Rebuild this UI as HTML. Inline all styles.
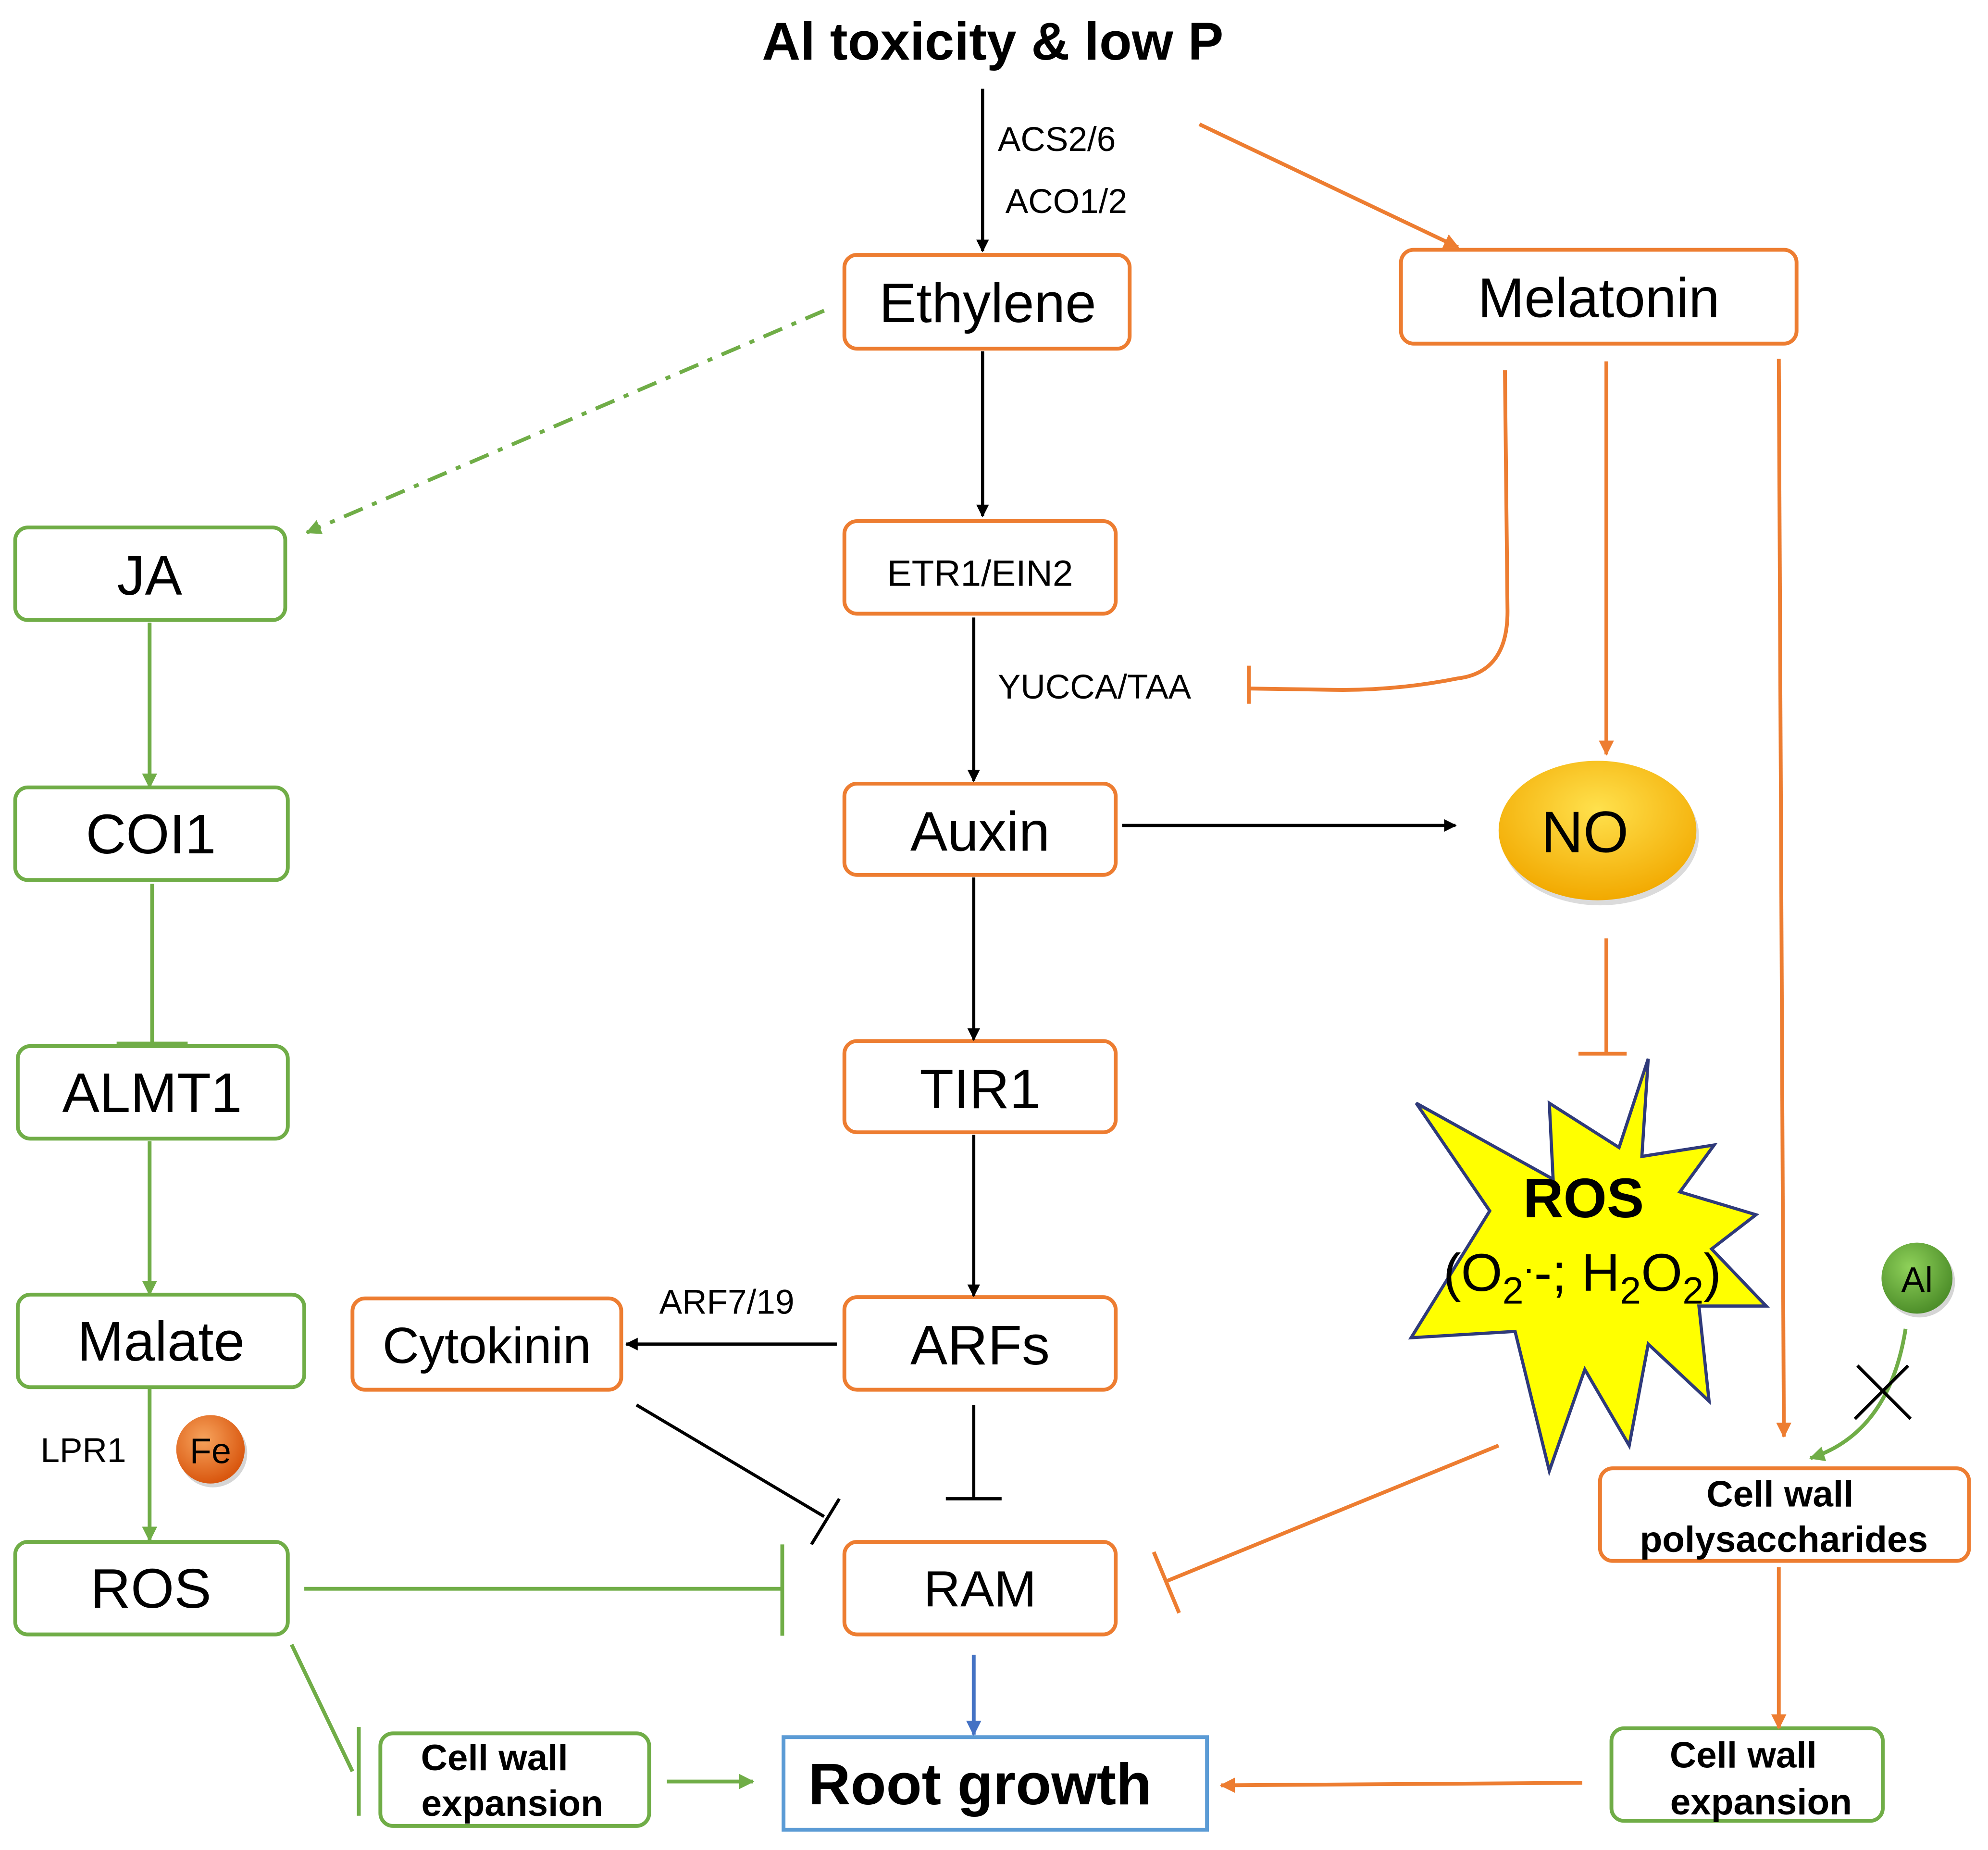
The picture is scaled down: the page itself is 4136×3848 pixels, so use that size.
<!DOCTYPE html>
<html><head><meta charset="utf-8"><style>
html,body{margin:0;padding:0;background:#fff;}
svg{display:block;}
text{font-family:"Liberation Sans",Arial,sans-serif;}
</style></head><body>
<svg width="4136" height="3848" viewBox="0 0 1568 1459" preserveAspectRatio="none" xmlns="http://www.w3.org/2000/svg">
<defs>
<marker id="ab" markerWidth="10" markerHeight="10" refX="9" refY="5" orient="auto" markerUnits="userSpaceOnUse"><path d="M0,0 L10,5 L0,10 z" fill="#000"/></marker>
<marker id="ao" markerWidth="12" markerHeight="12" refX="11" refY="6" orient="auto" markerUnits="userSpaceOnUse"><path d="M0,0 L12,6 L0,12 z" fill="#ED7D31"/></marker>
<marker id="ag" markerWidth="12" markerHeight="12" refX="11" refY="6" orient="auto" markerUnits="userSpaceOnUse"><path d="M0,0 L12,6 L0,12 z" fill="#70AD47"/></marker>
<marker id="abl" markerWidth="12" markerHeight="12" refX="11" refY="6" orient="auto" markerUnits="userSpaceOnUse"><path d="M0,0 L12,6 L0,12 z" fill="#4472C4"/></marker>
<radialGradient id="gold" cx="50%" cy="35%" r="65%"><stop offset="0" stop-color="#FFE14D"/><stop offset="1" stop-color="#F2A900"/></radialGradient>
<radialGradient id="fe" cx="40%" cy="35%" r="65%"><stop offset="0" stop-color="#F7A35C"/><stop offset="1" stop-color="#D9570F"/></radialGradient>
<radialGradient id="al" cx="40%" cy="35%" r="65%"><stop offset="0" stop-color="#8FD15A"/><stop offset="1" stop-color="#4E8F2A"/></radialGradient>
</defs>

<text x="783" y="47" font-size="42" font-weight="bold" text-anchor="middle">Al toxicity &amp; low P</text>

<g fill="none" stroke-width="3">
<g stroke="#ED7D31">
<rect x="666" y="201" width="225" height="74" rx="10"/>
<rect x="1105" y="197" width="312" height="74" rx="10"/>
<rect x="666" y="411" width="214" height="73" rx="10"/>
<rect x="666" y="618" width="214" height="72" rx="10"/>
<rect x="666" y="821" width="214" height="72" rx="10"/>
<rect x="666" y="1023" width="214" height="73" rx="10"/>
<rect x="278" y="1024" width="212" height="72" rx="10"/>
<rect x="666" y="1216" width="214" height="73" rx="10"/>
<rect x="1262" y="1158" width="291" height="73" rx="10"/>
</g>
<g stroke="#70AD47">
<rect x="12" y="416" width="213" height="73" rx="10"/>
<rect x="12" y="621" width="215" height="73" rx="10"/>
<rect x="14" y="825" width="213" height="73" rx="10"/>
<rect x="14" y="1021" width="226" height="73" rx="10"/>
<rect x="12" y="1216" width="215" height="73" rx="10"/>
<rect x="300" y="1367" width="212" height="73" rx="10"/>
<rect x="1271" y="1363" width="214" height="73" rx="10"/>
</g>
<rect x="618" y="1370" width="334" height="73" stroke="#5B9BD5"/>

<g stroke="#000" stroke-width="2.5">
<line x1="775" y1="70" x2="775" y2="198" marker-end="url(#ab)"/>
<line x1="775" y1="277" x2="775" y2="407" marker-end="url(#ab)"/>
<line x1="768" y1="487" x2="768" y2="616" marker-end="url(#ab)"/>
<line x1="768" y1="692" x2="768" y2="820" marker-end="url(#ab)"/>
<line x1="768" y1="895" x2="768" y2="1022" marker-end="url(#ab)"/>
<line x1="885" y1="651" x2="1148" y2="651" marker-end="url(#ab)"/>
<line x1="660" y1="1060" x2="494" y2="1060" marker-end="url(#ab)"/>
<line x1="768" y1="1108" x2="768" y2="1182"/>
<line x1="746" y1="1182" x2="790" y2="1182"/>
<line x1="502" y1="1108" x2="650" y2="1196"/>
<line x1="640" y1="1218" x2="662" y2="1182"/>
</g>

<g stroke="#ED7D31" stroke-width="3">
<line x1="946" y1="98" x2="1150" y2="195" marker-end="url(#ao)"/>
<path d="M1187,292 L1189,480 Q1190,530 1150,535 Q1100,545 1050,544 L985,543"/>
<line x1="985" y1="525" x2="985" y2="555"/>
<line x1="1267" y1="285" x2="1267" y2="595" marker-end="url(#ao)"/>
<line x1="1267" y1="740" x2="1267" y2="830"/>
<line x1="1245" y1="831" x2="1283" y2="831"/>
<line x1="1403" y1="283" x2="1407" y2="1133" marker-end="url(#ao)"/>
<line x1="1182" y1="1140" x2="920" y2="1247"/>
<line x1="910" y1="1224" x2="930" y2="1272"/>
<line x1="1403" y1="1236" x2="1403" y2="1363" marker-end="url(#ao)"/>
<line x1="1248" y1="1406" x2="963" y2="1408" marker-end="url(#ao)"/>
</g>

<g stroke="#70AD47" stroke-width="3">
<line x1="650" y1="245" x2="242" y2="420" stroke-dasharray="16,8,4,8" marker-end="url(#ag)"/>
<line x1="118" y1="491" x2="118" y2="621" marker-end="url(#ag)"/>
<line x1="120" y1="697" x2="120" y2="823"/>
<line x1="92" y1="823" x2="148" y2="823"/>
<line x1="118" y1="900" x2="118" y2="1021" marker-end="url(#ag)"/>
<line x1="118" y1="1094" x2="118" y2="1215" marker-end="url(#ag)"/>
<line x1="240" y1="1253" x2="617" y2="1253"/>
<line x1="617" y1="1218" x2="617" y2="1290"/>
<line x1="230" y1="1297" x2="278" y2="1397"/>
<line x1="283" y1="1362" x2="283" y2="1432"/>
<line x1="526" y1="1405" x2="594" y2="1405" marker-end="url(#ag)"/>
<path d="M1503,1048 Q1490,1130 1428,1150" marker-end="url(#ag)"/>
</g>
<g stroke="#000" stroke-width="2.5">
<line x1="1465" y1="1077" x2="1507" y2="1119"/>
<line x1="1505" y1="1077" x2="1463" y2="1119"/>
</g>
<line x1="768" y1="1305" x2="768" y2="1368" stroke="#4472C4" stroke-width="3" marker-end="url(#abl)"/>
</g>

<ellipse cx="1262" cy="659" rx="78" ry="55" fill="#999" opacity="0.35"/>
<ellipse cx="1260" cy="655" rx="78" ry="55" fill="url(#gold)"/>
<text x="1250" y="672" font-size="46" text-anchor="middle">NO</text>

<polygon points="1300,835 1277,905 1222,870 1225,930 1117,870 1175,955 1113,1055 1195,1050 1222,1160 1250,1080 1285,1140 1300,1060 1348,1105 1340,1030 1393,1030 1350,985 1385,958 1325,940 1352,903 1295,912" fill="#FFFF00" stroke="#2F3A7A" stroke-width="2.5"/>
<text x="1249" y="960" font-size="44" font-weight="bold" text-anchor="middle">ROS</text>
<text x="1248" y="1018" font-size="42" text-anchor="middle">(O<tspan font-size="30" dy="10">2</tspan><tspan dy="-24" font-size="30">.</tspan><tspan dy="14">-; H</tspan><tspan font-size="30" dy="10">2</tspan><tspan dy="-10">O</tspan><tspan font-size="30" dy="10">2</tspan><tspan dy="-10">)</tspan></text>

<circle cx="168" cy="1146" r="27" fill="#888" opacity="0.35"/>
<circle cx="166" cy="1143" r="27" fill="url(#fe)"/>
<text x="166" y="1154" font-size="28" text-anchor="middle">Fe</text>
<circle cx="1514" cy="1011" r="28" fill="#888" opacity="0.35"/>
<circle cx="1512" cy="1008" r="28" fill="url(#al)"/>
<text x="1512" y="1019" font-size="28" text-anchor="middle">Al</text>

<g font-size="27">
<text x="787" y="119">ACS2/6</text>
<text x="793" y="168">ACO1/2</text>
<text x="787" y="551">YUCCA/TAA</text>
<text x="520" y="1036">ARF7/19</text>
<text x="32" y="1153">LPR1</text>
</g>
<g font-size="44" text-anchor="middle">
<text x="779" y="254">Ethylene</text>
<text x="1261" y="250">Melatonin</text>
<text x="118" y="469">JA</text>
<text x="119" y="673">COI1</text>
<text x="120" y="877">ALMT1</text>
<text x="127" y="1073">Malate</text>
<text x="119" y="1268">ROS</text>
<text x="773" y="671">Auxin</text>
<text x="773" y="874">TIR1</text>
<text x="773" y="1076">ARFs</text>
<text x="384" y="1075" font-size="40">Cytokinin</text>
<text x="773" y="1267" font-size="40">RAM</text>
</g>
<text x="773" y="462" font-size="29" text-anchor="middle">ETR1/EIN2</text>
<text x="773" y="1423" font-size="46" font-weight="bold" text-anchor="middle">Root growth</text>
<g font-size="29" font-weight="bold" text-anchor="middle">
<text x="1404" y="1188">Cell wall</text>
<text x="1407" y="1224">polysaccharides</text>
<text x="390" y="1396">Cell wall</text>
<text x="404" y="1432">expansion</text>
<text x="1375" y="1394">Cell wall</text>
<text x="1389" y="1431">expansion</text>
</g>
</svg>
</body></html>
